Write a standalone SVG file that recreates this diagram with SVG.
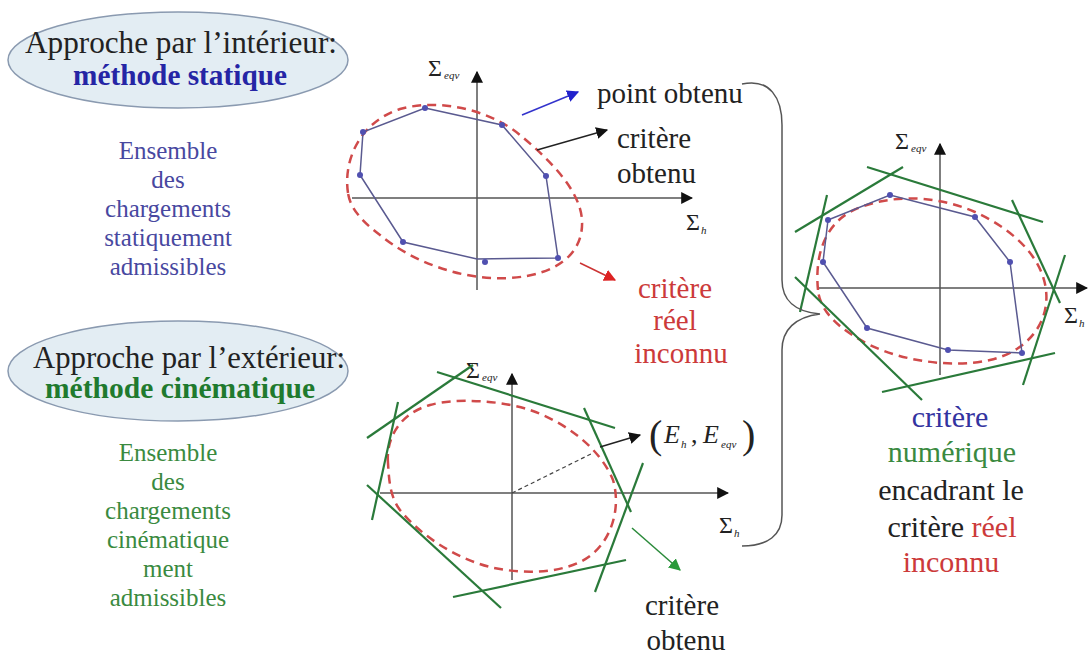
<svg xmlns="http://www.w3.org/2000/svg" width="1090" height="657" viewBox="0 0 1090 657">
<defs>
<style>
text{font-family:"Liberation Serif","Times New Roman",serif}
.ell{fill:#e3edf3;stroke:#8a9ab0;stroke-width:1.5}
.ax{stroke:#555;stroke-width:1.5;fill:none}
.poly{fill:none;stroke:#5a5a90;stroke-width:1.5}
.dot{fill:#5050b0}
.dash{fill:none;stroke:#d04a4a;stroke-width:2.5;stroke-dasharray:9 6}
.gr{stroke:#2a7a3a;stroke-width:2.2}
</style>
<marker id="ak" viewBox="0 0 10 10" refX="9" refY="5" markerWidth="12" markerHeight="12" markerUnits="userSpaceOnUse" orient="auto"><path d="M0,0 L10,5 L0,10 Z" fill="#111"/></marker>
<marker id="ab" viewBox="0 0 10 10" refX="9" refY="5" markerWidth="12" markerHeight="12" markerUnits="userSpaceOnUse" orient="auto"><path d="M0,0 L10,5 L0,10 Z" fill="#2222cc"/></marker>
<marker id="ar" viewBox="0 0 10 10" refX="9" refY="5" markerWidth="12" markerHeight="12" markerUnits="userSpaceOnUse" orient="auto"><path d="M0,0 L10,5 L0,10 Z" fill="#dd2222"/></marker>
<marker id="ag" viewBox="0 0 10 10" refX="9" refY="5" markerWidth="12" markerHeight="12" markerUnits="userSpaceOnUse" orient="auto"><path d="M0,0 L10,5 L0,10 Z" fill="#2a9a3a"/></marker>
</defs>
<rect width="1090" height="657" fill="#fff"/>

<g id="static-title">
<ellipse class="ell" cx="178" cy="60" rx="170" ry="48"/>
<text x="25" y="53" font-size="31" fill="#222" textLength="312" lengthAdjust="spacingAndGlyphs">Approche par l’intérieur:</text>
<text x="180" y="85" font-size="29" font-weight="bold" fill="#2525a5" text-anchor="middle" textLength="214" lengthAdjust="spacingAndGlyphs">méthode statique</text>
</g>
<g id="static-desc" font-size="25" fill="#4848a0" text-anchor="middle">
<text x="168" y="159">Ensemble</text>
<text x="168" y="188">des</text>
<text x="168" y="217">chargements</text>
<text x="168" y="246">statiquement</text>
<text x="168" y="275">admissibles</text>
</g>

<g id="kin-title">
<ellipse class="ell" cx="178" cy="371" rx="170" ry="50"/>
<text x="33" y="368" font-size="31" fill="#222" textLength="312" lengthAdjust="spacingAndGlyphs">Approche par l’extérieur:</text>
<text x="180" y="398" font-size="29" font-weight="bold" fill="#1f7a2e" text-anchor="middle" textLength="270" lengthAdjust="spacingAndGlyphs">méthode cinématique</text>
</g>
<g id="kin-desc" font-size="25" fill="#3a8a40" text-anchor="middle">
<text x="168" y="461">Ensemble</text>
<text x="168" y="490">des</text>
<text x="168" y="519">chargements</text>
<text x="168" y="548">cinématique</text>
<text x="168" y="577">ment</text>
<text x="168" y="606">admissibles</text>
</g>

<g id="graph-static">
<line class="ax" x1="477" y1="290" x2="477" y2="72" marker-end="url(#ak)"/>
<line class="ax" x1="352" y1="198" x2="692" y2="198" marker-end="url(#ak)"/>
<text x="428" y="76" font-size="24" fill="#222">Σ</text>
<text x="444" y="79" font-size="11" font-style="italic" fill="#222">eqv</text>
<text x="686" y="230" font-size="24" fill="#222">Σ</text>
<text x="701" y="234" font-size="11" font-style="italic" fill="#222">h</text>
<path class="dash" d="M348,193 C343,160 360,122 400,109 C440,98 490,110 520,135 C550,160 580,190 582,220 C584,255 555,275 510,278 C460,281 410,260 380,235 C360,220 350,207 348,193 Z"/>
<polygon class="poly" points="425,108 502,125 546,176 558,258 477,259 403,242 360,175 363,132"/>
<g class="dot">
<circle cx="425" cy="108" r="3"/><circle cx="363" cy="132" r="3"/><circle cx="360" cy="175" r="3"/><circle cx="403" cy="242" r="3"/>
<circle cx="485" cy="262" r="3"/><circle cx="558" cy="258" r="3"/><circle cx="546" cy="176" r="3"/><circle cx="502" cy="125" r="3"/>
</g>
</g>

<g id="graph-kinematic">
<line class="ax" x1="512" y1="580" x2="512" y2="374" marker-end="url(#ak)"/>
<line class="ax" x1="380" y1="493" x2="728" y2="493" marker-end="url(#ak)"/>
<text x="466" y="378" font-size="24" fill="#222">Σ</text>
<text x="482" y="381" font-size="11" font-style="italic" fill="#222">eqv</text>
<text x="719" y="533" font-size="24" fill="#222">Σ</text>
<text x="734" y="537" font-size="11" font-style="italic" fill="#222">h</text>
<path class="dash" d="M388,463 C386,440 398,414 430,405 C455,398 500,400 530,410 C565,422 600,448 613,480 C622,510 610,548 580,562 C555,574 520,574 490,567 C455,558 420,535 400,510 C390,497 389,480 388,463 Z"/>
<g class="gr">
<line x1="437" y1="372" x2="615" y2="428"/>
<line x1="367" y1="438" x2="473" y2="365"/>
<line x1="398" y1="402" x2="372" y2="520"/>
<line x1="367" y1="485" x2="501" y2="608"/>
<line x1="453" y1="597" x2="626" y2="560"/>
<line x1="643" y1="463" x2="595" y2="592"/>
<line x1="584" y1="408" x2="631" y2="512"/>
</g>
<line x1="512" y1="493" x2="593" y2="453" stroke="#444" stroke-width="1.2" stroke-dasharray="4 3"/>
</g>

<g id="graph-numeric">
<line class="ax" x1="940" y1="375" x2="940" y2="144" marker-end="url(#ak)"/>
<line class="ax" x1="818" y1="288" x2="1087" y2="288" marker-end="url(#ak)"/>
<text x="895" y="149" font-size="24" fill="#222">Σ</text>
<text x="911" y="152" font-size="11" font-style="italic" fill="#222">eqv</text>
<text x="1064" y="323" font-size="24" fill="#222">Σ</text>
<text x="1079" y="327" font-size="11" font-style="italic" fill="#222">h</text>
<path class="dash" d="M818,290 C815,260 822,228 850,212 C880,196 930,192 975,212 C1010,228 1042,255 1046,290 C1050,325 1025,352 990,360 C955,368 905,362 870,345 C840,330 820,312 818,290 Z"/>
<polygon class="poly" points="828,220 890,195 975,217 1010,262 1022,353 948,350 867,328 823,262"/>
<g class="dot">
<circle cx="828" cy="220" r="3"/><circle cx="890" cy="195" r="3"/><circle cx="975" cy="217" r="3"/><circle cx="1010" cy="262" r="3"/>
<circle cx="1022" cy="353" r="3"/><circle cx="948" cy="350" r="3"/><circle cx="867" cy="328" r="3"/><circle cx="823" cy="262" r="3"/>
</g>
<g class="gr">
<line x1="867" y1="167" x2="1043" y2="222"/>
<line x1="795" y1="232" x2="903" y2="167"/>
<line x1="827" y1="195" x2="800" y2="312"/>
<line x1="795" y1="277" x2="922" y2="400"/>
<line x1="882" y1="392" x2="1055" y2="353"/>
<line x1="1065" y1="255" x2="1023" y2="385"/>
<line x1="1012" y1="200" x2="1060" y2="303"/>
</g>
</g>

<g id="connectors" fill="none">
<line x1="522" y1="115" x2="578" y2="92" stroke="#3333cc" stroke-width="1.5" marker-end="url(#ab)"/>
<line x1="537" y1="150" x2="607" y2="130" stroke="#222" stroke-width="1.5" marker-end="url(#ak)"/>
<line x1="580" y1="263" x2="615" y2="280" stroke="#cc3333" stroke-width="1.5" marker-end="url(#ar)"/>
<line x1="600" y1="447" x2="640" y2="435" stroke="#222" stroke-width="1.5" marker-end="url(#ak)"/>
<line x1="632" y1="528" x2="680" y2="570" stroke="#2a8a3a" stroke-width="1.5" marker-end="url(#ag)"/>
<path d="M742,84 C770,78 782,98 782,125 L782,280 C782,300 795,312 820,314 C795,317 782,330 782,350 L782,515 C782,535 768,546 742,546" stroke="#555" stroke-width="1.5"/>
</g>

<g id="labels">
<text x="597" y="103" font-size="29" fill="#222">point obtenu</text>
<text x="617" y="148" font-size="29" fill="#222">critère</text>
<text x="617" y="183" font-size="29" fill="#222">obtenu</text>
<text x="675" y="298" font-size="29" fill="#cc3a3a" text-anchor="middle">critère</text>
<text x="675" y="330" font-size="29" fill="#cc3a3a" text-anchor="middle">réel</text>
<text x="681" y="363" font-size="29" fill="#cc3a3a" text-anchor="middle">inconnu</text>
<text x="649" y="448" font-size="40" fill="#222">(</text>
<text x="664" y="443" font-size="26" font-style="italic" fill="#222">E</text>
<text x="681" y="448" font-size="11" font-style="italic" fill="#222">h</text>
<text x="691" y="443" font-size="26" fill="#222">,</text>
<text x="703" y="443" font-size="26" font-style="italic" fill="#222">E</text>
<text x="721" y="448" font-size="11" font-style="italic" fill="#222">eqv</text>
<text x="742" y="448" font-size="40" fill="#222">)</text>
<text x="682" y="615" font-size="29" fill="#222" text-anchor="middle">critère</text>
<text x="686" y="650" font-size="29" fill="#222" text-anchor="middle">obtenu</text>
<text x="950" y="427" font-size="30" fill="#3333a0" text-anchor="middle">critère</text>
<text x="952" y="462" font-size="30" fill="#3a8a40" text-anchor="middle">numérique</text>
<text x="951" y="500" font-size="30" fill="#222" text-anchor="middle">encadrant le</text>
<text x="952" y="537" font-size="30" fill="#222" text-anchor="middle">critère <tspan fill="#cc3a3a">réel</tspan></text>
<text x="951" y="572" font-size="30" fill="#cc3a3a" text-anchor="middle">inconnu</text>
</g>
</svg>
